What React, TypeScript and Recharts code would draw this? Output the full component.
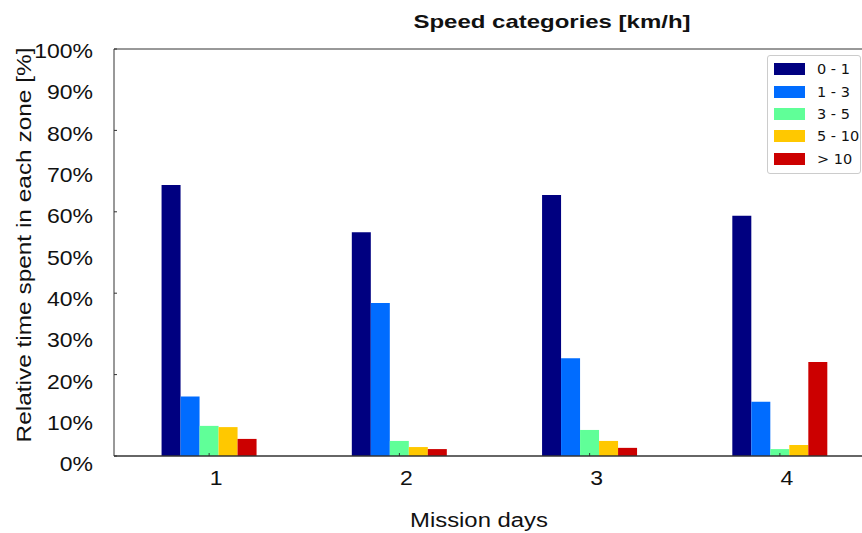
import { BarChart, Bar, XAxis, YAxis, Legend, ReferenceLine } from "recharts";

const days = ["1", "2", "3", "4"];
const zone0to1 = [66.6, 55.0, 64.1, 59.0];
const zone1to3 = [14.6, 37.6, 24.0, 13.3];
const zone3to5 = [7.4, 3.7, 6.4, 1.7];
const zone5to10 = [7.1, 2.2, 3.7, 2.7];
const zoneOver10 = [4.2, 1.7, 2.0, 23.1];
const seriesNames = ["0 - 1", "1 - 3", "3 - 5", "5 - 10", "> 10"];
const seriesColors = ["#000080", "#006cff", "#60ff98", "#ffc800", "#cc0000"];
const yTicks = [0, 10, 20, 30, 40, 50, 60, 70, 80, 90, 100];

const AXIS_X = 114;

const data = days.map((day, i) => ({
  day,
  s0: zone0to1[i],
  s1: zone1to3[i],
  s2: zone3to5[i],
  s3: zone5to10[i],
  s4: zoneOver10[i],
}));

function YTick({ x, y, payload }: any) {
  const v = payload.value;
  // labels drift a bit lower than their ticks toward the bottom, like the original
  const shift = 2 + ((100 - v) / 100) * 6;
  return (
    <g>
      {v % 20 === 0 && (
        <line x1={AXIS_X} x2={AXIS_X + 3} y1={y} y2={y} stroke="#333" />
      )}
      <g transform={`translate(${x},${y + shift}) scale(1.15,1)`}>
        <text textAnchor="end" dy="0.355em" fontSize={20} fill="#111">
          {v}%
        </text>
      </g>
    </g>
  );
}

function XTick({ x, y, payload }: any) {
  return (
    <g>
      <line x1={x} x2={x} y1={y} y2={y - 3} stroke="#333" />
      <g transform={`translate(${x + 7},${y + 29}) scale(1.15,1)`}>
        <text textAnchor="middle" fontSize={20} fill="#111">
          {payload.value}
        </text>
      </g>
    </g>
  );
}

function SpeedLegend({ payload }: any) {
  return (
    <div
      style={{
        boxSizing: "border-box",
        border: "1px solid #ccc",
        borderRadius: 3,
        background: "#fff",
        padding: "2px 0 3px 6px",
        fontFamily: "DejaVu Sans, sans-serif",
        fontSize: 14.5,
        color: "#111",
        width: 94,
        whiteSpace: "nowrap",
      }}
    >
      {(payload || []).map((entry: any) => (
        <div
          key={entry.value}
          style={{ display: "flex", alignItems: "center", height: 22.4 }}
        >
          <span
            style={{
              display: "inline-block",
              width: 31,
              height: 12,
              background: entry.color,
              marginRight: 12,
            }}
          />
          <span>{entry.value}</span>
        </div>
      ))}
    </div>
  );
}

export default function App() {
  return (
    <div
      style={{
        position: "absolute",
        left: 0,
        top: 0,
        width: 862,
        height: 533,
        overflow: "hidden",
        background: "#fff",
        fontFamily: "Liberation Sans, Arial, sans-serif",
      }}
    >
      <BarChart
        width={880}
        height={533}
        data={data}
        margin={{ top: 49, right: 5, bottom: 0, left: 0 }}
        barCategoryGap="25%"
        barGap={0}
      >
        <XAxis
          dataKey="day"
          height={77}
          tickSize={0}
          tickMargin={0}
          tick={<XTick />}
          axisLine={{ stroke: "#333", strokeWidth: 1.5 }}
        />
        <YAxis
          width={AXIS_X}
          domain={[0, 100]}
          ticks={yTicks}
          interval={0}
          tickLine={false}
          tickSize={0}
          tickMargin={21}
          tick={<YTick />}
          axisLine={{ stroke: "#333" }}
        />
        <ReferenceLine y={100} stroke="#333" />
        <Legend
          layout="horizontal"
          verticalAlign="middle"
          content={<SpeedLegend />}
          wrapperStyle={{ position: "absolute", left: 767, top: 55, width: 94 }}
        />
        {["s0", "s1", "s2", "s3", "s4"].map((key, i) => (
          <Bar
            key={key}
            dataKey={key}
            name={seriesNames[i]}
            fill={seriesColors[i]}
            isAnimationActive={false}
          />
        ))}
      </BarChart>
      <svg
        width={862}
        height={533}
        style={{ position: "absolute", left: 0, top: 0, pointerEvents: "none" }}
      >
        <text
          x={552}
          y={28}
          textAnchor="middle"
          fontWeight="bold"
          fontSize={19}
          textLength={277}
          lengthAdjust="spacingAndGlyphs"
          fill="#111"
        >
          Speed categories [km/h]
        </text>
        <text
          x={479}
          y={527}
          textAnchor="middle"
          fontSize={20}
          textLength={138}
          lengthAdjust="spacingAndGlyphs"
          fill="#111"
        >
          Mission days
        </text>
        <text
          transform="translate(31,245) rotate(-90)"
          textAnchor="middle"
          fontSize={20}
          textLength={395}
          lengthAdjust="spacingAndGlyphs"
          fill="#111"
        >
          Relative time spent in each zone [%]
        </text>
      </svg>
    </div>
  );
}
